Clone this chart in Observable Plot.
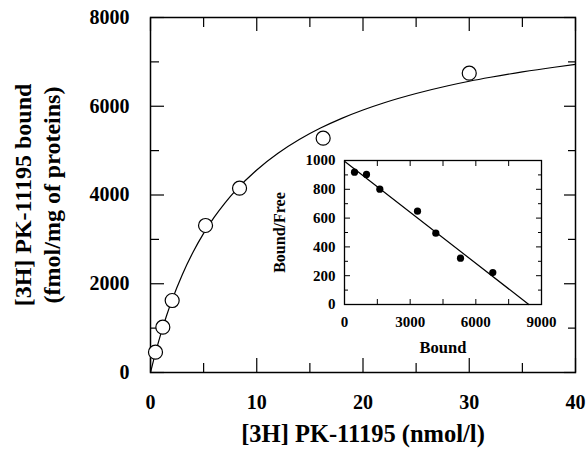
<!DOCTYPE html>
<html><head><meta charset="utf-8">
<script src="https://cdn.jsdelivr.net/npm/d3@7"></script>
<script src="https://cdn.jsdelivr.net/npm/@observablehq/plot@0.6"></script>
<style>
body{margin:0;background:#fff;}
#wrap{position:relative;width:587px;height:454px;}
#inset{position:absolute;left:280px;top:150px;}
</style></head>
<body><div id="wrap"><div id="main"></div><div id="inset"></div></div>
<script>
// Main saturation data
const concentration = [0.47, 1.16, 2.04, 5.18, 8.38, 16.25, 30.0];
const bound = [457, 1021, 1622, 3313, 4153, 5280, 6745];
// Fitted curve
const curveX = [0, 0.5, 1, 1.5, 2, 3, 4, 5, 6, 7, 8, 10, 12, 14, 16, 18, 20, 22, 25, 28, 30, 32, 35, 38, 40];
const curveY = [0, 472, 894, 1273, 1615, 2211, 2710, 3134, 3500, 3818, 4098, 4565, 4941, 5250, 5508, 5727, 5915, 6079, 6287, 6462, 6563, 6653, 6774, 6879, 6942];
// Scatchard inset data
const insetBound = [457, 1005, 1614, 3335, 4172, 5300, 6775];
const insetRatio = [919, 903, 801, 648, 495, 322, 222];
const lineBound = [0, 8420];
const lineRatio = [995, 0];
// Ticks
const xMajor = [0, 10, 20, 30, 40], xMinor = [5, 15, 25, 35];
const yMajor = [0, 2000, 4000, 6000, 8000], yMinor = [1000, 3000, 5000, 7000];
const ixMajor = [0, 3000, 6000, 9000], ixMinor = [1500, 4500, 7500];
const iyMajor = [0, 200, 400, 600, 800, 1000], iyMinor = [100, 300, 500, 700, 900];

const font = "Liberation Serif, Times New Roman, serif";
const none = () => "";
const fmt = d3.format("d");
const pts = concentration.map((c, i) => ({c, b: bound[i]}));
const curve = curveX.map((x, i) => ({x, y: curveY[i]}));

const main = Plot.plot({
  width: 587, height: 454,
  marginLeft: 150, marginRight: 12, marginTop: 17, marginBottom: 82,
  x: {domain: [0, 40]}, y: {domain: [0, 8000]},
  style: {fontFamily: font, fontWeight: "bold", fontSize: "20px", color: "black", background: "white"},
  marks: [
    Plot.axisX({anchor: "bottom", ticks: xMajor, tickSize: 0, tickPadding: 22, tickFormat: fmt, label: null, fontSize: 20}),
    Plot.axisY({anchor: "left", ticks: yMajor, tickSize: 0, tickPadding: 21, tickFormat: fmt, label: null, fontSize: 20}),
    Plot.axisX({anchor: "bottom", ticks: xMajor, tickSize: -14, tickFormat: none, label: null, strokeWidth: 1.2}),
    Plot.axisX({anchor: "bottom", ticks: xMinor, tickSize: -9, tickFormat: none, label: null, strokeWidth: 1.2}),
    Plot.axisX({anchor: "top", ticks: xMajor, tickSize: -13, tickFormat: none, label: null, strokeWidth: 1.2}),
    Plot.axisX({anchor: "top", ticks: xMinor, tickSize: -9, tickFormat: none, label: null, strokeWidth: 1.2}),
    Plot.axisY({anchor: "left", ticks: yMajor, tickSize: -14, tickFormat: none, label: null, strokeWidth: 1.2}),
    Plot.axisY({anchor: "left", ticks: yMinor, tickSize: -9, tickFormat: none, label: null, strokeWidth: 1.2}),
    Plot.axisY({anchor: "right", ticks: yMajor, tickSize: -12, tickFormat: none, label: null, strokeWidth: 1.2}),
    Plot.axisY({anchor: "right", ticks: yMinor, tickSize: -8, tickFormat: none, label: null, strokeWidth: 1.2}),
    Plot.frame({stroke: "black", strokeWidth: 1.5}),
    Plot.line(curve, {x: "x", y: "y", stroke: "black", strokeWidth: 1.2, curve: "monotone-x"}),
    Plot.dot(pts, {x: "c", y: "b", r: 7, fill: "white", stroke: "black", strokeWidth: 1.2}),
    Plot.text(["[3H] PK-11195 (nmol/l)"], {frameAnchor: "bottom", dy: 69, fontSize: 24.5, fontWeight: "bold", fill: "black"}),
    Plot.text(["[3H] PK-11195 bound"], {frameAnchor: "left", textAnchor: "middle", dx: -127, rotate: -90, fontSize: 24, fontWeight: "bold", fill: "black"}),
    Plot.text(["(fmol/mg of proteins)"], {frameAnchor: "left", textAnchor: "middle", dx: -98, rotate: -90, fontSize: 24, fontWeight: "bold", fill: "black"})
  ]
});
document.getElementById("main").append(main);

const ipts = insetBound.map((b, i) => ({b, r: insetRatio[i]}));
const iline = lineBound.map((b, i) => ({b, r: lineRatio[i]}));
const inset = Plot.plot({
  width: 280, height: 215,
  marginLeft: 64, marginRight: 19, marginTop: 10, marginBottom: 61,
  x: {domain: [0, 9000]}, y: {domain: [0, 1000]},
  style: {fontFamily: font, fontWeight: "bold", fontSize: "15px", color: "black", background: "transparent", overflow: "visible"},
  marks: [
    Plot.axisX({anchor: "bottom", ticks: ixMajor, tickSize: 0, tickPadding: 12, tickFormat: fmt, label: null, fontSize: 15}),
    Plot.axisY({anchor: "left", ticks: iyMajor, tickSize: 0, tickPadding: 9, tickFormat: fmt, label: null, fontSize: 15}),
    Plot.axisX({anchor: "bottom", ticks: ixMajor.concat(ixMinor), tickSize: -5, tickFormat: none, label: null}),
    Plot.axisX({anchor: "top", ticks: ixMajor.concat(ixMinor), tickSize: -5, tickFormat: none, label: null}),
    Plot.axisY({anchor: "left", ticks: iyMajor, tickSize: -6, tickFormat: none, label: null}),
    Plot.axisY({anchor: "left", ticks: iyMinor, tickSize: -4, tickFormat: none, label: null}),
    Plot.axisY({anchor: "right", ticks: iyMajor, tickSize: -6, tickFormat: none, label: null}),
    Plot.axisY({anchor: "right", ticks: iyMinor, tickSize: -4, tickFormat: none, label: null}),
    Plot.frame({stroke: "black", strokeWidth: 1.3}),
    Plot.line(iline, {x: "b", y: "r", stroke: "black", strokeWidth: 1.2}),
    Plot.dot(ipts, {x: "b", y: "r", r: 3.6, fill: "black"}),
    Plot.text(["Bound"], {frameAnchor: "bottom", dy: 48, fontSize: 16.5, fontWeight: "bold", fill: "black"}),
    Plot.text(["Bound/Free"], {frameAnchor: "left", textAnchor: "middle", dx: -65, rotate: -90, fontSize: 16, fontWeight: "bold", fill: "black"})
  ]
});
document.getElementById("inset").append(inset);
</script></body></html>
